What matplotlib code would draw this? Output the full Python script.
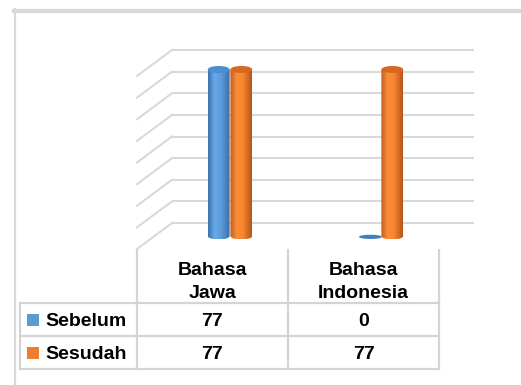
import numpy as np
import matplotlib
matplotlib.use("Agg")
import matplotlib.pyplot as plt
from matplotlib.patches import Ellipse, PathPatch, Rectangle
from matplotlib.path import Path
from matplotlib.colors import LinearSegmentedColormap
from matplotlib.transforms import Affine2D, blended_transform_factory
from matplotlib.lines import Line2D

# data
categories = ["Bahasa\nJawa", "Bahasa\nIndonesia"]
series_names = ["Sebelum", "Sesudah"]
sebelum = [77, 0]
sesudah = [77, 77]
values = [sebelum, sesudah]
y_ticks = list(range(0, 81, 10))

W, H = 521, 385
plt.rcParams["font.family"] = ["Liberation Sans", "DejaVu Sans"]

fig = plt.figure(figsize=(W / 100, H / 100), dpi=100)
fig.patch.set_facecolor("white")

# pixel transform for figure (origin top-left)
px = Affine2D().scale(1 / W, -1 / H).translate(0, 1) + fig.transFigure

grid_c = "#d9d9d9"
table_c = "#d4d4d4"

# outer frame
fig.add_artist(Line2D([14, W], [10.5, 10.5], transform=px, color=grid_c, lw=3))
fig.add_artist(Line2D([15, 15], [9, H], transform=px, color=grid_c, lw=1.6))

# main axes = front plane of the 3D box
x_left, x_right, y_base, y_top = 137, 439, 249, 76
ax = fig.add_axes([x_left / W, (H - y_base) / H, (x_right - x_left) / W, (y_base - y_top) / H])
ax.set_xlim(-0.5, 1.5)
ax.set_ylim(0, 80)
ax.axis("off")

ppx = (x_right - x_left) / 2.0          # pixels per x unit
ppy = (y_base - y_top) / 80.0           # pixels per y unit
DX = 35 / ppx                           # depth offset in data units
DY = 26 / ppy

# back wall gridlines and side diagonals
for v in y_ticks:
    ax.plot([-0.5 + DX, 1.5 + DX], [v + DY, v + DY], color=grid_c, lw=1.5,
            clip_on=False, zorder=1, solid_capstyle="butt")
    ax.plot([-0.5, -0.5 + DX], [v, v + DY], color=grid_c, lw=1.5,
            clip_on=False, zorder=1)

# cylinders
grad = np.linspace(0, 1, 128)[None, :]
cmaps = [
    LinearSegmentedColormap.from_list("b", [(0, "#3a72ae"), (0.3, "#6aa9e7"),
                                            (0.6, "#5c9cdc"), (1, "#386ea8")]),
    LinearSegmentedColormap.from_list("o", [(0, "#c05d1c"), (0.3, "#fc8d38"),
                                            (0.6, "#f7852f"), (1, "#b5541a")]),
]
top_colors = ["#4f8ccf", "#d8681f"]
flat_colors = ["#3f7dbd", "#c9621e"]
bar_w = 0.145
ell_h = 7 / ppy

for i, vals in enumerate(values):
    for j, v in enumerate(vals):
        xc = j + (i - 0.5) * 0.15 + DX / 2
        y0 = DY / 2
        xl, xr = xc - bar_w / 2, xc + bar_w / 2
        if v == 0:
            ax.add_patch(Ellipse((xc + 0.005, y0 - 0.4), bar_w * 1.05, ell_h * 0.6,
                                 angle=0, facecolor=flat_colors[i],
                                 edgecolor="none", zorder=3 + i, clip_on=False))
            continue
        top = y0 + v
        t = np.linspace(np.pi, 2 * np.pi, 40)
        verts = [(xl, top), (xl, y0)]
        verts += list(zip(xc + bar_w / 2 * np.cos(t), y0 + ell_h / 2 * np.sin(t)))
        verts += [(xr, y0), (xr, top), (xl, top)]
        codes = [Path.MOVETO] + [Path.LINETO] * (len(verts) - 2) + [Path.CLOSEPOLY]
        clip = PathPatch(Path(verts, codes), transform=ax.transData,
                         facecolor="none", edgecolor="none", clip_on=False)
        ax.add_patch(clip)
        im = ax.imshow(grad, cmap=cmaps[i], aspect="auto",
                       extent=[xl, xr, y0 - ell_h / 2, top], zorder=3 + i,
                       interpolation="bilinear")
        im.set_clip_box(fig.bbox)
        im.set_clip_path(clip)
        ax.add_patch(Ellipse((xc, top), bar_w, ell_h, facecolor=top_colors[i],
                             edgecolor="none", zorder=3 + i, clip_on=False))

ax.set_xlim(-0.5, 1.5)
ax.set_ylim(0, 80)

# data table
tx = blended_transform_factory(ax.transData, px)
col_edges = [-0.5, 0.5, 1.5]
for xe in col_edges:
    ax.add_artist(Line2D([xe, xe], [250, 369], transform=tx, color=table_c,
                         lw=1.6, clip_on=False))
fig.add_artist(Line2D([20, 20], [303, 369], transform=px, color=table_c, lw=1.6))
for yy in [303, 336, 369]:
    fig.add_artist(Line2D([20, x_right], [yy, yy], transform=px, color=table_c, lw=1.6))

for j, cat in enumerate(categories):
    ax.text(j, 282, cat, transform=tx, ha="center", va="center",
            fontsize=14, fontweight="bold", linespacing=1.4, clip_on=False)

row_y = [326, 359]
legend_colors = ["#5b9bd5", "#ed7d31"]
for i, name in enumerate(series_names):
    fig.add_artist(Rectangle((27, row_y[i] - 12), 12, 12, transform=px,
                             facecolor=legend_colors[i], edgecolor="none"))
    fig.text(45 / W, 1 - row_y[i] / H, name, ha="left", va="baseline",
             fontsize=14, fontweight="bold")
    for j, v in enumerate(values[i]):
        ax.text(j, row_y[i], str(v), transform=tx, ha="center", va="baseline",
                fontsize=14, fontweight="bold", clip_on=False)

fig.savefig("out.png", dpi=100)
